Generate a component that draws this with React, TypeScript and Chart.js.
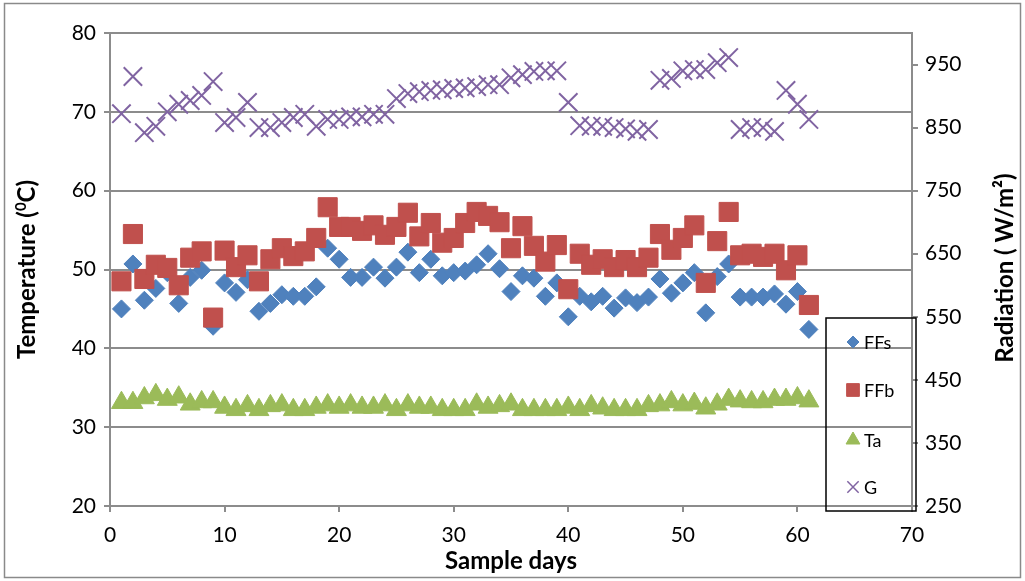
import React, { useEffect, useRef } from "react";
import { Chart, registerables } from "chart.js";
import { drawPoint } from "chart.js/helpers";

Chart.register(...registerables);

const DAYS = [1, 2, 3, 4, 5, 6, 7, 8, 9, 10, 11, 12, 13, 14, 15, 16, 17, 18, 19, 20, 21, 22, 23, 24, 25, 26, 27, 28, 29, 30, 31, 32, 33, 34, 35, 36, 37, 38, 39, 40, 41, 42, 43, 44, 45, 46, 47, 48, 49, 50, 51, 52, 53, 54, 55, 56, 57, 58, 59, 60, 61];

const FFS = [45.0, 50.7, 46.1, 47.6, 49.6, 45.7, 49.0, 49.9, 42.8, 48.3, 47.1, 48.7, 44.7, 45.7, 46.8, 46.6, 46.6, 47.8, 52.7, 51.3, 49.0, 49.0, 50.3, 48.9, 50.3, 52.2, 49.6, 51.3, 49.2, 49.6, 49.8, 50.6, 52.0, 50.1, 47.2, 49.2, 48.9, 46.6, 48.3, 44.0, 46.6, 45.9, 46.6, 45.1, 46.4, 45.8, 46.5, 48.8, 47.0, 48.3, 49.6, 44.5, 49.1, 50.7, 46.5, 46.5, 46.5, 46.9, 45.6, 47.2, 42.4];

const FFB = [48.5, 54.5, 48.8, 50.6, 50.2, 48.0, 51.5, 52.3, 43.9, 52.4, 50.3, 51.8, 48.5, 51.3, 52.7, 51.7, 52.3, 54.0, 57.9, 55.4, 55.4, 54.9, 55.6, 54.4, 55.4, 57.2, 54.2, 55.9, 53.4, 54.0, 55.9, 57.3, 56.8, 56.0, 52.7, 55.5, 53.0, 51.0, 53.1, 47.5, 52.0, 50.6, 51.3, 50.3, 51.2, 50.3, 51.5, 54.5, 52.5, 54.0, 55.6, 48.3, 53.6, 57.3, 51.8, 52.0, 51.6, 52.0, 49.9, 51.8, 45.5];

const TA = [33.1, 33.1, 33.7, 34.1, 33.5, 33.8, 32.9, 33.2, 33.2, 32.5, 32.2, 32.7, 32.2, 32.7, 32.8, 32.2, 32.2, 32.5, 32.8, 32.5, 32.8, 32.5, 32.5, 32.8, 32.2, 32.8, 32.5, 32.5, 32.2, 32.2, 32.2, 32.9, 32.5, 32.7, 32.9, 32.2, 32.2, 32.2, 32.2, 32.5, 32.2, 32.7, 32.4, 32.2, 32.2, 32.2, 32.7, 32.8, 33.2, 32.8, 33.0, 32.4, 32.9, 33.5, 33.3, 33.2, 33.2, 33.5, 33.5, 33.7, 33.3];

const G = [872, 931, 842, 852, 875, 887, 893, 901, 923, 858, 866, 890, 850, 850, 858, 866, 871, 852, 863, 863, 867, 867, 871, 871, 896, 904, 907, 909, 910, 912, 913, 915, 918, 918, 929, 934, 939, 940, 940, 890, 853, 852, 852, 850, 848, 844, 847, 925, 928, 940, 942, 942, 953, 961, 847, 850, 850, 844, 909, 887, 863];

const SERIES_NAMES = ["FFs", "FFb", "Ta", "G"];
const X_TICKS = [0, 10, 20, 30, 40, 50, 60, 70];
const LEFT_TICKS = [20, 30, 40, 50, 60, 70, 80];
const RIGHT_TICKS = [250, 350, 450, 550, 650, 750, 850, 950];

const BLUE = "#4F81BD";
const RED = "#C0504D";
const GREEN = "#9BBB59";
const PURPLE = "#8064A2";
const GRID = "#8c8c8c";
const FONT = "Lato, 'Open Sans', sans-serif";
const TICK_SIZE = 21;
const TITLE_SIZE = 24;

const pts = (ys: number[]) => DAYS.map((d, i) => ({ x: d, y: ys[i] }));

const decor = {
  id: "decor",
  beforeDraw(chart: any) {
    const ctx = chart.ctx;
    ctx.save();
    ctx.fillStyle = "#ffffff";
    ctx.fillRect(0, 0, chart.width, chart.height);
    ctx.strokeStyle = "#8a8a8a";
    ctx.lineWidth = 1.5;
    ctx.strokeRect(4.5, 3.5, chart.width - 9, chart.height - 7);
    ctx.restore();
  },
  afterDraw(chart: any) {
    const ctx = chart.ctx;
    const area = chart.chartArea;
    ctx.save();
    ctx.fillStyle = "#000";
    // x title
    ctx.font = `bold ${TITLE_SIZE}px ${FONT}`;
    ctx.textAlign = "center";
    ctx.textBaseline = "middle";
    ctx.fillText("Sample days", (area.left + area.right) / 2, 561);

    // left title with superscript
    ctx.save();
    ctx.translate(27, (area.top + area.bottom) / 2);
    ctx.rotate(-Math.PI / 2);
    const p1 = "Temperature (";
    const p2 = "0";
    const p3 = "C)";
    ctx.font = `bold ${TITLE_SIZE}px ${FONT}`;
    const w1 = ctx.measureText(p1).width;
    const w3 = ctx.measureText(p3).width;
    ctx.font = `bold 15px ${FONT}`;
    const w2 = ctx.measureText(p2).width;
    const total = w1 + w2 + w3;
    let x = -total / 2;
    ctx.textAlign = "left";
    ctx.textBaseline = "middle";
    ctx.font = `bold ${TITLE_SIZE}px ${FONT}`;
    ctx.fillText(p1, x, 0);
    x += w1;
    ctx.font = `bold 15px ${FONT}`;
    ctx.fillText(p2, x, -6);
    x += w2;
    ctx.font = `bold ${TITLE_SIZE}px ${FONT}`;
    ctx.fillText(p3, x, 0);
    ctx.restore();

    // right title
    ctx.save();
    ctx.translate(1005, 268);
    ctx.rotate(-Math.PI / 2);
    ctx.font = `bold ${TITLE_SIZE}px ${FONT}`;
    ctx.textAlign = "center";
    ctx.textBaseline = "middle";
    ctx.fillText("Radiation ( W/m\u00B2)", 0, 0);
    ctx.restore();

    // legend box
    ctx.strokeStyle = "#000";
    ctx.lineWidth = 1.5;
    ctx.strokeRect(826, 318, 90, 193);
    const items = [
      { style: "rectRot", r: 6, color: BLUE, y: 342 },
      { style: "rect", r: 9, color: RED, y: 390 },
      { style: "triangle", r: 8, color: GREEN, y: 440 },
      { style: "crossRot", r: 8, color: PURPLE, y: 487 },
    ];
    items.forEach((it, i) => {
      ctx.fillStyle = it.color;
      ctx.strokeStyle = it.color;
      ctx.lineWidth = it.style === "crossRot" ? 1.5 : 1;
      drawPoint(ctx, { pointStyle: it.style, radius: it.r, rotation: 0, borderWidth: ctx.lineWidth }, 853, it.y);
      ctx.fillStyle = "#000";
      ctx.font = `18px ${FONT}`;
      ctx.textAlign = "left";
      ctx.textBaseline = "middle";
      ctx.fillText(SERIES_NAMES[i], 864, it.y + 1);
    });
    ctx.restore();
  },
};

export default function App() {
  const ref = useRef<HTMLCanvasElement>(null);
  useEffect(() => {
    if (!ref.current) return;
    const chart = new Chart(ref.current, {
      type: "scatter",
      data: {
        datasets: [
          {
            label: SERIES_NAMES[0],
            data: pts(FFS),
            yAxisID: "y",
            pointStyle: "rectRot",
            pointRadius: 9,
            backgroundColor: BLUE,
            borderColor: BLUE,
            borderWidth: 1,
            order: 4,
          },
          {
            label: SERIES_NAMES[1],
            data: pts(FFB),
            yAxisID: "y",
            pointStyle: "rect",
            pointRadius: 13.5,
            backgroundColor: RED,
            borderColor: RED,
            borderWidth: 1,
            order: 3,
          },
          {
            label: SERIES_NAMES[2],
            data: pts(TA),
            yAxisID: "y",
            pointStyle: "triangle",
            pointRadius: 11.5,
            backgroundColor: GREEN,
            borderColor: GREEN,
            borderWidth: 1,
            order: 2,
          },
          {
            label: SERIES_NAMES[3],
            data: pts(G),
            yAxisID: "y1",
            pointStyle: "crossRot",
            pointRadius: 13,
            backgroundColor: PURPLE,
            borderColor: PURPLE,
            borderWidth: 2,
            order: 1,
          },
        ],
      },
      options: {
        animation: false,
        responsive: true,
        maintainAspectRatio: false,
        layout: { padding: { top: 33, left: 0, right: 0, bottom: 0 } },
        plugins: { legend: { display: false }, tooltip: { enabled: false } },
        scales: {
          x: {
            type: "linear",
            min: 0,
            max: 70,
            afterBuildTicks: (s: any) => {
              s.ticks = X_TICKS.map((v) => ({ value: v }));
            },
            afterFit: (s: any) => {
              s.height = 75;
            },
            ticks: { font: { family: FONT, size: TICK_SIZE }, color: "#000", padding: 11, maxRotation: 0 },
            grid: { drawOnChartArea: false, color: GRID, lineWidth: 2, tickLength: 6 },
            border: { color: GRID, width: 2 },
          },
          y: {
            position: "left",
            min: 20,
            max: 80,
            afterBuildTicks: (s: any) => {
              s.ticks = LEFT_TICKS.map((v) => ({ value: v }));
            },
            afterFit: (s: any) => {
              s.width = 110;
            },
            ticks: { font: { family: FONT, size: TICK_SIZE }, color: "#000", padding: 8 },
            grid: { color: GRID, lineWidth: 2, tickLength: 6 },
            border: { color: GRID, width: 2 },
          },
          y1: {
            position: "right",
            min: 250,
            max: 1000,
            afterBuildTicks: (s: any) => {
              s.ticks = RIGHT_TICKS.map((v) => ({ value: v }));
            },
            afterFit: (s: any) => {
              s.width = 113;
            },
            ticks: { font: { family: FONT, size: TICK_SIZE }, color: "#000", padding: 7 },
            grid: { drawOnChartArea: false, color: GRID, lineWidth: 2, tickLength: 6 },
            border: { color: GRID, width: 2 },
          },
        },
      },
      plugins: [decor],
    });
    return () => chart.destroy();
  }, []);
  return (
    <div style={{ position: "fixed", left: 0, top: 0, width: 1025, height: 581 }}>
      <canvas ref={ref} />
    </div>
  );
}
